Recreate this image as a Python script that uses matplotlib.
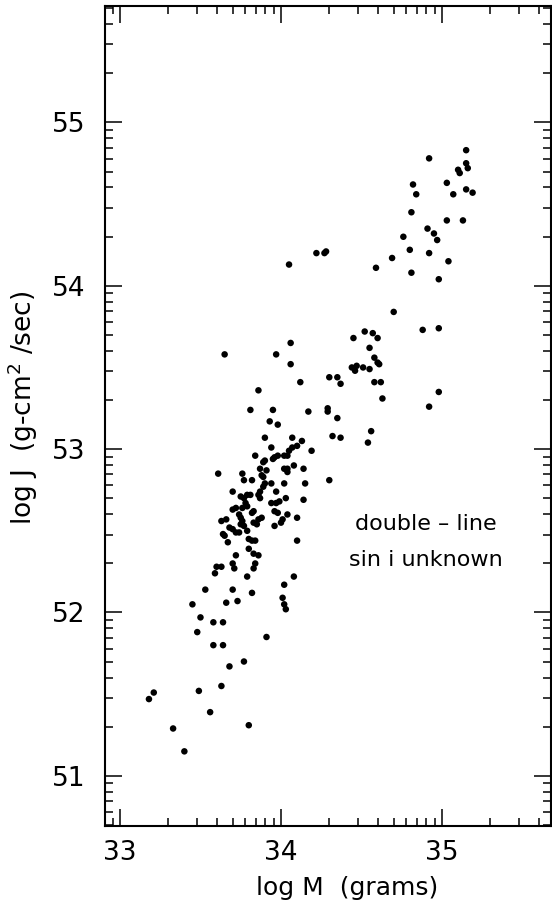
import numpy as np
import matplotlib
matplotlib.use("Agg")
import matplotlib.pyplot as plt
from matplotlib.ticker import FixedLocator, NullFormatter

# log M (grams) and log J (g cm^2 / s), double-line systems, sin i unknown
log_m = [
    34.92, 35.15, 35.15, 35.16, 35.10, 35.11, 34.82, 35.03, 34.84, 35.07,
    35.15, 35.19, 34.81, 35.03, 35.13, 34.91, 34.95, 34.97, 34.76, 34.80,
    34.92, 34.69, 35.04, 34.81, 34.98, 34.22, 34.27, 34.28, 34.05, 34.59,
    34.70, 34.88, 34.98, 34.45, 34.52, 34.57, 34.60, 34.55, 34.06, 33.97,
    34.06, 34.58, 34.60, 34.61, 34.44, 34.46, 34.47, 34.51, 34.55, 34.30,
    34.35, 34.37, 34.12, 34.58, 34.62, 33.86, 34.63, 33.95, 33.81, 34.17,
    34.29, 34.29, 34.35, 34.92, 34.98, 33.65, 33.93, 33.98, 34.32, 34.37,
    34.54, 34.56, 33.90, 33.94, 34.07, 34.13, 34.07, 34.05, 34.04, 34.02,
    34.10, 34.19, 33.84, 33.96, 33.95, 33.98, 33.90, 33.89, 33.87, 33.91,
    34.08, 34.02, 34.04, 34.04, 34.14, 33.61, 33.76, 33.77, 33.82, 33.88,
    33.89, 34.30, 33.90, 33.94, 33.89, 34.02, 34.15, 33.70, 33.87, 33.86,
    33.87, 33.75, 33.77, 33.79, 33.81, 33.97, 34.03, 34.14, 33.78, 33.79,
    33.94, 33.97, 33.99, 33.72, 33.70, 33.76, 33.83, 33.82, 33.96, 33.98,
    33.74, 33.75, 33.76, 33.75, 33.77, 33.88, 33.86, 34.04, 34.10, 33.63,
    33.66, 33.83, 33.85, 34.01, 34.00, 33.96, 33.68, 33.70, 33.64, 33.65,
    33.67, 33.72, 33.74, 33.79, 33.80, 33.82, 33.84, 33.72, 33.80, 33.83,
    33.86, 34.10, 33.60, 33.63, 33.59, 33.70, 33.71, 33.84, 33.83, 33.79,
    34.08, 34.02, 33.53, 33.70, 33.82, 34.01, 34.02, 34.03, 33.45, 33.66,
    33.73, 33.50, 33.58, 33.64, 33.48, 33.91, 33.58, 33.64, 33.77, 33.68,
    33.21, 33.18, 33.49, 33.63, 33.56, 33.80, 33.33, 33.40,
]
log_j = [
    54.78, 54.83, 54.75, 54.72, 54.71, 54.69, 54.62, 54.63, 54.56, 54.56,
    54.59, 54.57, 54.45, 54.40, 54.40, 54.35, 54.32, 54.28, 54.30, 54.22,
    54.20, 54.17, 54.15, 54.08, 54.04, 54.20, 54.20, 54.21, 54.13, 54.11,
    53.84, 53.73, 53.74, 53.68, 53.72, 53.71, 53.68, 53.62, 53.65, 53.58,
    53.52, 53.56, 53.53, 53.52, 53.50, 53.48, 53.51, 53.50, 53.49, 53.44,
    53.44, 53.40, 53.41, 53.41, 53.41, 53.36, 53.31, 53.24, 53.24, 53.23,
    53.25, 53.23, 53.19, 53.26, 53.35, 53.58, 53.17, 53.15, 53.08, 53.07,
    53.04, 53.11, 53.07, 53.01, 53.07, 53.05, 53.01, 52.99, 52.96, 52.96,
    53.02, 52.99, 52.96, 52.95, 52.94, 52.96, 52.93, 52.92, 52.88, 52.87,
    52.90, 52.88, 52.88, 52.86, 52.88, 52.85, 52.85, 52.81, 52.81, 52.84,
    52.83, 52.81, 52.79, 52.79, 52.77, 52.79, 52.79, 52.74, 52.74, 52.72,
    52.70, 52.71, 52.70, 52.72, 52.72, 52.74, 52.70, 52.69, 52.67, 52.65,
    52.67, 52.67, 52.68, 52.64, 52.63, 52.64, 52.62, 52.61, 52.62, 52.61,
    52.60, 52.58, 52.56, 52.54, 52.53, 52.58, 52.57, 52.60, 52.58, 52.56,
    52.57, 52.55, 52.54, 52.57, 52.55, 52.53, 52.52, 52.51, 52.48, 52.47,
    52.43, 52.49, 52.49, 52.50, 52.45, 52.44, 52.44, 52.35, 52.39, 52.36,
    52.35, 52.44, 52.28, 52.28, 52.24, 52.30, 52.27, 52.30, 52.27, 52.22,
    52.22, 52.17, 52.14, 52.14, 52.12, 52.09, 52.05, 52.02, 52.05, 52.06,
    52.07, 51.97, 51.94, 51.94, 51.88, 51.85, 51.80, 51.80, 51.70, 51.67,
    51.51, 51.47, 51.52, 51.55, 51.39, 51.31, 51.29, 51.15,
]

x_major = [33, 34, 35]
y_major = [51, 52, 53, 54, 55]


def log_minor(lo, hi):
    # minor marks at n + log10(k), k = 2..9, like a log-cycle ruler
    ticks = []
    for n in range(int(np.floor(lo)), int(np.ceil(hi)) + 1):
        for k in range(2, 10):
            t = n + np.log10(k)
            if lo < t < hi:
                ticks.append(t)
    return ticks


fig = plt.figure(figsize=(5.52, 9.10), dpi=100)
ax = fig.add_axes([0.1902, 0.0923, 0.808, 0.901])

ax.scatter(log_m, log_j, s=22, c="black", edgecolors="none")

xlim = (32.907, 35.677)
ylim = (50.693, 55.712)
ax.set_xlim(*xlim)
ax.set_ylim(*ylim)

ax.xaxis.set_major_locator(FixedLocator(x_major))
ax.yaxis.set_major_locator(FixedLocator(y_major))
ax.xaxis.set_minor_locator(FixedLocator(log_minor(*xlim)))
ax.yaxis.set_minor_locator(FixedLocator(log_minor(*ylim)))
ax.xaxis.set_minor_formatter(NullFormatter())
ax.yaxis.set_minor_formatter(NullFormatter())

ax.tick_params(which="both", direction="in", top=True, right=True, width=1.1)
ax.tick_params(which="major", length=12, labelsize=19)
ax.tick_params(which="minor", length=6)
ax.tick_params(axis="x", which="major", pad=10)
ax.tick_params(axis="y", which="major", pad=14)
for sp in ax.spines.values():
    sp.set_linewidth(1.5)

ax.set_xlabel("log M  (grams)", fontsize=18, va="center")
ax.set_ylabel(r"log J  (g-cm$^{2}$ /sec)", fontsize=19, va="center")
ax.xaxis.set_label_coords(0.543, -0.0756)
ax.yaxis.set_label_coords(-0.185, 0.51)

ax.text(34.90, 52.54, "double – line", fontsize=16, ha="center", va="center")
ax.text(34.90, 52.32, "sin i unknown", fontsize=16, ha="center", va="center")

fig.savefig("out.png", dpi=100)
